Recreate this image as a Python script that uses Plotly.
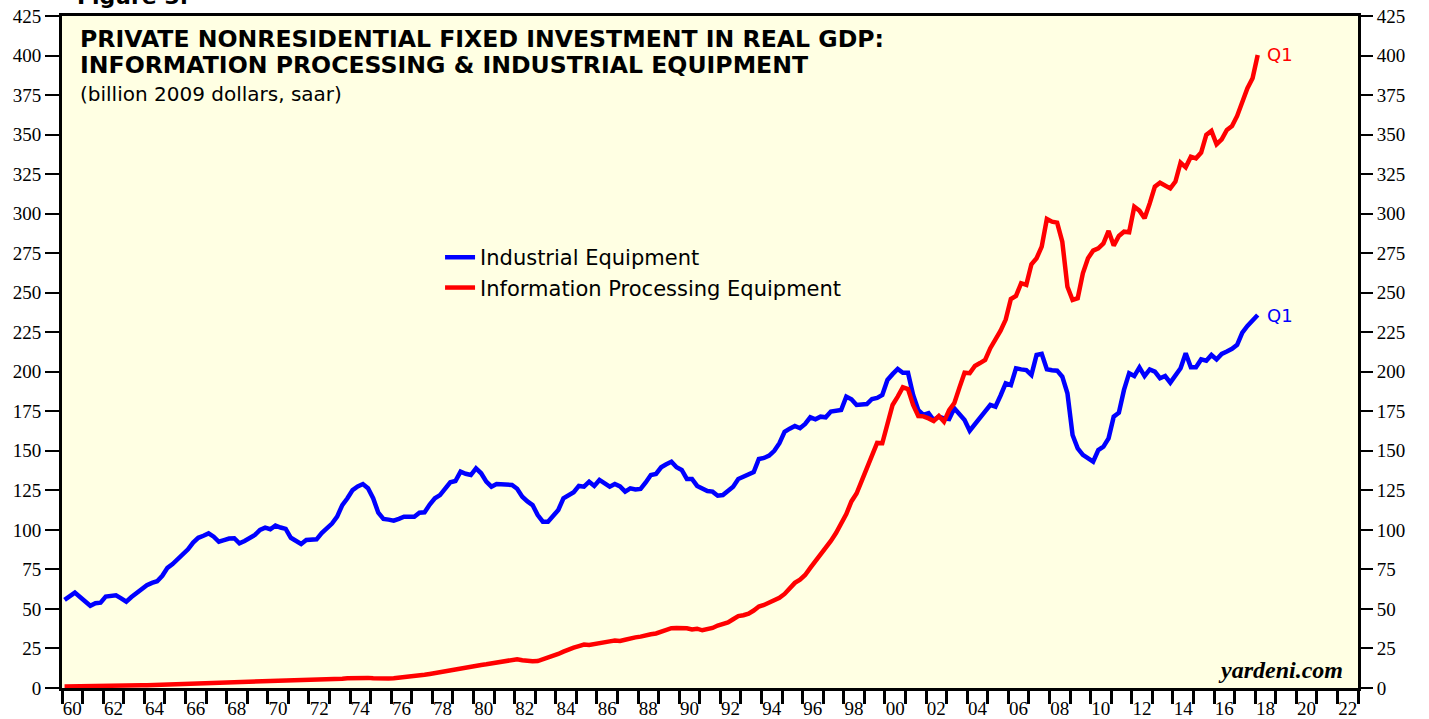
import plotly.graph_objects as go

# quarterly data, 1960Q1 .. 2018Q1 (billion 2009 dollars, saar)
first_year = 1960
industrial = [
    55.7, 58.0, 60.3, 57.5,  55.0, 52.0, 53.6, 54.0,  57.8, 58.2, 58.6, 56.7,  54.6, 57.5, 60.0, 63.0,
    65.0, 66.5, 67.5, 71.0,  76.0, 78.4, 81.5, 84.8,  87.7, 92.0, 95.0, 96.3,  97.8, 95.7, 92.5, 93.5,
    94.5, 94.7, 91.5, 93.0,  95.0, 96.8, 100.0, 101.4,  100.4, 102.7, 101.5, 100.6,  95.0, 93.0, 91.1, 93.6,
    93.6, 94.0, 98.0, 101.0,  104.0, 108.4, 115.7, 120.0,  125.2, 127.5, 129.0, 126.3,  120.0, 110.9, 106.9, 106.5,
    105.8, 107.0, 108.3, 108.3,  108.3, 110.9, 111.1, 116.0,  120.0, 122.0, 126.5, 130.1,  130.9, 136.8, 135.5, 134.7,
    138.9, 135.8, 130.5, 127.3,  129.0, 128.9, 128.8, 128.4,  126.0, 121.0, 118.0, 115.7,  109.4, 105.2, 105.2, 109.4,
    112.6, 120.0, 122.0, 123.8,  127.8, 127.3, 130.5, 127.8,  131.6, 129.5, 127.3, 129.0,  127.5, 124.2, 126.3, 125.5,
    125.9, 130.0, 134.7, 135.4,  139.6, 141.5, 143.1, 139.6,  137.9, 132.2, 132.2, 127.8,  126.0, 124.6, 124.2, 121.6,
    122.0, 124.5, 127.3, 132.2,  133.5, 134.5, 136.5, 144.8,  145.5, 147.0, 150.0, 154.8,  162.0, 164.0, 165.7, 164.3,
    167.0, 171.2, 169.9, 171.6,  171.2, 174.8, 175.2, 175.8,  184.3, 182.6, 179.0, 179.3,  179.6, 182.8, 183.5, 185.3,
    194.8, 198.5, 201.8, 199.4,  199.4, 185.3, 175.8, 172.7,  173.8, 169.5, 171.6, 170.5,  170.1, 176.9, 173.0, 169.5,
    162.7, 167.0, 171.6, 175.0,  179.0, 177.9, 185.0, 192.7,  191.6, 202.2, 201.5, 201.1,  198.0, 210.6, 211.3, 201.6,
    201.0, 200.7, 196.9, 186.4,  160.0, 151.6, 147.4, 145.0,  143.1, 150.5, 152.6, 157.9,  171.6, 174.1, 188.5, 199.1,
    197.3, 202.8, 197.3, 201.5,  200.1, 195.9, 197.3, 193.1,  198.0, 202.2, 211.7, 202.8,  202.8, 207.8, 207.0, 210.6,
    207.8, 211.3, 212.8, 214.5,  217.0, 224.7, 229.0, 232.5,  235.9,
]
info_processing = [
    1.0, 1.0, 1.1, 1.1,  1.2, 1.2, 1.3, 1.3,  1.4, 1.4, 1.5, 1.5,  1.6, 1.6, 1.7, 1.7,
    1.8, 1.9, 2.0, 2.1,  2.2, 2.3, 2.4, 2.6,  2.7, 2.9, 3.0, 3.1,  3.1, 3.2, 3.2, 3.3,
    3.3, 3.4, 3.4, 3.5,  3.7, 3.9, 4.0, 4.1,  4.2, 4.2, 4.2, 4.3,  4.3, 4.4, 4.5, 4.7,
    4.8, 5.0, 5.1, 5.3,  5.5, 5.7, 5.9, 6.1,  6.3, 6.5, 6.5, 6.4,  6.1, 5.9, 5.9, 6.0,
    6.1, 6.4, 6.8, 7.2,  7.6, 8.0, 8.4, 8.9,  9.5, 10.3, 11.0, 11.7,  12.2, 12.6, 13.1, 13.7,
    14.3, 14.6, 15.0, 15.6,  16.2, 16.8, 17.4, 18.0,  18.2, 17.6, 17.0, 16.9,  17.0, 18.0, 19.5, 20.5,
    21.5, 23.0, 24.5, 25.5,  26.5, 27.5, 27.2, 27.6,  28.2, 29.0, 29.5, 30.0,  29.8, 30.5, 31.5, 32.0,
    32.5, 33.5, 34.0, 34.5,  35.5, 37.0, 37.8, 38.0,  38.2, 37.8, 37.0, 37.5,  36.5, 37.0, 38.0, 39.5,
    40.5, 41.5, 43.5, 45.5,  46.0, 47.0, 49.0, 51.5,  52.5, 54.0, 55.5, 57.0,  59.5, 63.0, 66.5, 68.5,
    71.5, 76.0, 80.0, 84.5,  88.0, 93.0, 98.0, 104.0,  110.0, 118.0, 123.0, 131.0,  139.0, 146.0, 155.0, 154.8,
    167.4, 179.0, 184.3, 190.2,  189.1, 179.0, 172.0, 171.8,  170.5, 168.9, 172.0, 168.4,  175.8, 180.1, 190.0, 199.4,
    199.1, 203.7, 205.5, 207.5,  214.9, 220.0, 226.0, 233.0,  246.0, 248.0, 256.0, 255.0,  268.0, 271.8, 279.1, 296.6,
    294.9, 294.3, 282.3, 253.8,  245.4, 246.5, 262.3, 271.8,  276.6, 278.1, 281.2, 289.1,  279.8, 285.9, 288.6, 288.2,
    304.4, 301.9, 297.1, 306.5,  317.1, 319.6, 318.1, 316.0,  320.3, 332.3, 329.3, 336.0,  335.0, 338.6, 349.8, 352.3,
    343.9, 347.0, 352.9, 355.4,  361.8, 370.8, 379.3, 385.6,  400.4,
]
year_ticks = list(range(1960, 2023, 2))
y_ticks = list(range(0, 426, 25))

# mid-quarter positions in decimal years
quarters = [first_year + i / 4 + 0.125 for i in range(len(industrial))]

BG = "#FFFFE3"
SERIF = "Liberation Serif, Times New Roman, serif"
SANS = "DejaVu Sans, Arial, sans-serif"

fig = go.Figure()
fig.add_trace(go.Scatter(
    x=quarters, y=industrial, mode="lines", name="Industrial Equipment",
    line=dict(color="#0000FF", width=4.5),
))
fig.add_trace(go.Scatter(
    x=quarters, y=info_processing, mode="lines", name="Information Processing Equipment",
    line=dict(color="#FF0000", width=4.5),
))
# invisible trace so the right-hand axis is drawn
fig.add_trace(go.Scatter(
    x=quarters[:1], y=industrial[:1], yaxis="y2", mode="lines",
    line=dict(color="rgba(0,0,0,0)"), showlegend=False, hoverinfo="skip",
))

# Q1 end labels
for series, color in [(info_processing, "#FF0000"), (industrial, "#0000FF")]:
    fig.add_annotation(
        x=quarters[-1], y=series[-1], text="Q1", showarrow=False,
        xanchor="left", yanchor="middle", xshift=7,
        font=dict(family=SANS, size=18, color=color),
    )

fig.add_annotation(
    xref="paper", yref="paper", x=0.0125, y=0.99, xanchor="left", yanchor="top",
    text="<b>PRIVATE NONRESIDENTIAL FIXED INVESTMENT IN REAL GDP:</b>",
    showarrow=False, font=dict(family=SANS, size=23.6, color="black"),
)
fig.add_annotation(
    xref="paper", yref="paper", x=0.0125, y=0.951, xanchor="left", yanchor="top",
    text="<b>INFORMATION PROCESSING &amp; INDUSTRIAL EQUIPMENT</b>",
    showarrow=False, font=dict(family=SANS, size=23.6, color="black"),
)
fig.add_annotation(
    xref="paper", yref="paper", x=0.0125, y=0.905, xanchor="left", yanchor="top",
    text="(billion 2009 dollars, saar)",
    showarrow=False, font=dict(family=SANS, size=20, color="black"),
)
fig.add_annotation(
    xref="paper", yref="paper", x=0.99, y=0.004, xanchor="right", yanchor="bottom",
    text="<b><i>yardeni.com</i></b>",
    showarrow=False, font=dict(family=SERIF, size=24, color="black"),
)
# page caption above the frame, only its lower edge shows in the original
fig.add_annotation(
    xref="paper", yref="paper", x=0.01, y=1.0074, xanchor="left", yanchor="bottom",
    text="<b>Figure 3.</b>",
    showarrow=False, font=dict(family=SANS, size=22, color="black"),
)

fig.update_layout(
    width=1429,
    height=719,
    margin=dict(l=62, r=71, t=16, b=31),
    paper_bgcolor="white",
    plot_bgcolor=BG,
    showlegend=True,
    legend=dict(
        x=0.2917, y=0.671, xanchor="left", yanchor="top",
        bgcolor="rgba(0,0,0,0)", font=dict(family=SANS, size=21, color="black"),
        tracegroupgap=0,
    ),
    xaxis=dict(
        range=[1960, 2023],
        automargin=False,
        tickmode="array",
        tickvals=[y + 0.5 for y in year_ticks],
        ticktext=[f"{y % 100:02d}" for y in year_ticks],
        ticks="outside", ticklen=1, tickcolor="rgba(0,0,0,0)",
        minor=dict(tickmode="array", tickvals=list(range(1960, 2024)),
                   ticks="outside", ticklen=13, tickwidth=3, tickcolor="black"),
        showgrid=False, zeroline=False,
        showline=True, linecolor="black", linewidth=3, mirror=True,
        tickfont=dict(family=SERIF, size=19, color="black"),
        ticklabeloverflow="allow",
    ),
    yaxis=dict(
        range=[0, 425], tickmode="array", tickvals=y_ticks,
        automargin=False,
        ticks="outside", ticklen=14, tickwidth=1.5, tickcolor="black",
        showgrid=False, zeroline=False,
        showline=True, linecolor="black", linewidth=3, mirror=True,
        tickfont=dict(family=SERIF, size=19, color="black"),
        ticklabeloverflow="allow",
    ),
    yaxis2=dict(
        range=[0, 425], tickmode="array", tickvals=y_ticks,
        automargin=False,
        overlaying="y", side="right",
        ticks="outside", ticklen=14, tickwidth=1.5, tickcolor="black",
        showgrid=False, zeroline=False, showline=False,
        tickfont=dict(family=SERIF, size=19, color="black"),
        ticklabeloverflow="allow",
    ),
)

# the page's default body margin would shift the figure by 8px
fig.write_html(
    "out.html",
    config={"displayModeBar": False},
    post_script="document.body.style.margin = '0px';",
)
